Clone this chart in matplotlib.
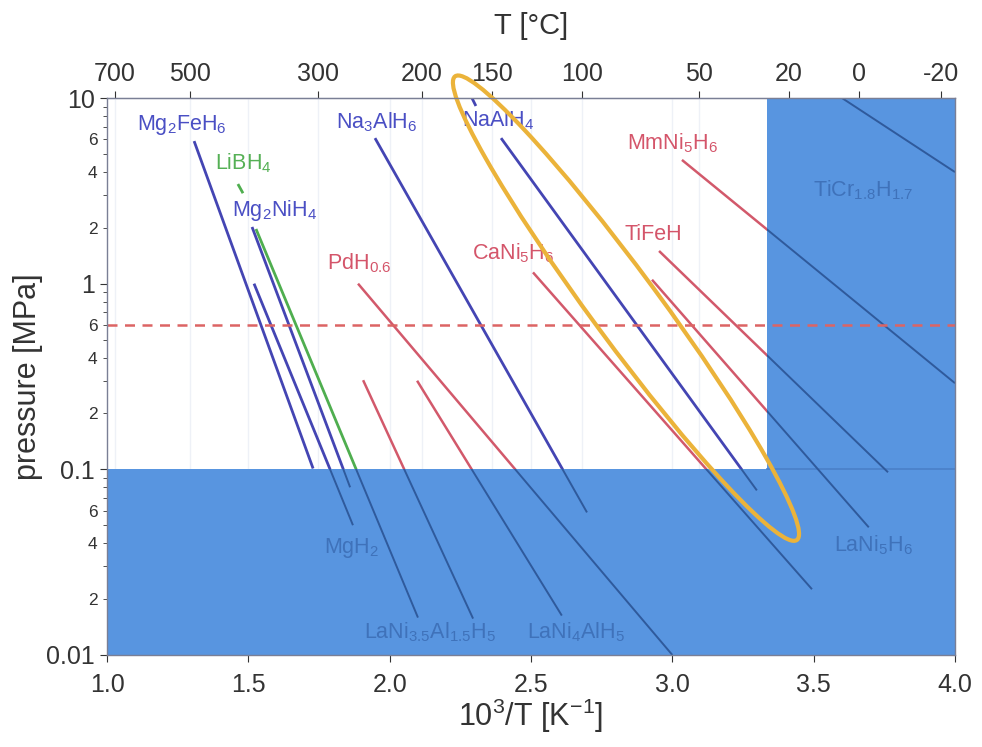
import numpy as np
import matplotlib
matplotlib.use("Agg")
import matplotlib.pyplot as plt
from matplotlib.patches import Polygon, Ellipse
from matplotlib.transforms import ScaledTranslation

plt.rcParams['font.family'] = ['Liberation Sans', 'DejaVu Sans']
plt.rcParams['mathtext.fontset'] = 'custom'
plt.rcParams['mathtext.rm'] = 'Liberation Sans'
plt.rcParams['mathtext.it'] = 'Liberation Sans'
plt.rcParams['mathtext.default'] = 'regular'

# ---------------------------------------------------------------------------
# Data: van't Hoff lines, (1000/T, p[MPa]) start and end points
# ---------------------------------------------------------------------------
names = ["Mg2FeH6", "MgH2", "Mg2NiH4", "LiBH4", "LiBH4_tick", "Na3AlH6", "NaAlH4",
         "NaAlH4_tick", "PdH0.6", "LaNiAl", "LaNi4AlH5", "CaNi5H6", "MmNi5H6",
         "TiFeH", "LaNi5H6", "TiCrH"]
x_start = [1.308, 1.520, 1.513, 1.527, 1.463, 1.948, 2.394, 2.291, 1.888, 1.906,
           2.097, 2.507, 3.034, 2.953, 2.928, 3.600]
x_end = [1.729, 1.870, 1.860, 2.100, 1.481, 2.698, 3.299, 2.305, 3.000, 2.295,
         2.609, 3.494, 4.000, 3.763, 3.695, 4.000]
p_start = [5.86, 1.00, 2.02, 1.97, 3.44, 6.08, 6.08, 10.0, 1.00, 0.302,
           0.300, 1.15, 4.64, 1.50, 1.05, 10.0]
p_end = [0.101, 0.050, 0.080, 0.0159, 3.07, 0.0586, 0.077, 9.06, 0.010, 0.0157,
         0.0163, 0.0226, 0.291, 0.0964, 0.0487, 3.99]
groups = ["blue", "blue", "blue", "green", "green", "blue", "blue", "blue", "red",
          "red", "red", "red", "red", "red", "red", "blue"]

# compound labels: text, 1000/T, p, colour group
label_text = ["Mg$_2$FeH$_6$", "LiBH$_4$", "Mg$_2$NiH$_4$", "Na$_3$AlH$_6$", "NaAlH$_4$",
              "MmNi$_5$H$_6$", "TiCr$_{1.8}$H$_{1.7}$", "PdH$_{0.6}$", "CaNi$_5$H$_6$",
              "TiFeH", "MgH$_2$", "LaNi$_{3.5}$Al$_{1.5}$H$_5$", "LaNi$_4$AlH$_5$",
              "LaNi$_5$H$_6$"]
label_x = [1.106, 1.382, 1.442, 1.810, 2.256, 2.839, 3.497, 1.778, 2.291, 2.829,
           1.768, 1.909, 2.486, 3.572]
label_p = [7.14, 4.47, 2.49, 7.43, 7.6, 5.71, 3.19, 1.29, 1.46, 1.85, 0.0375,
           0.0132, 0.0132, 0.0389]
label_group = ["blue", "green", "blue", "blue", "blue", "red", "shade", "red", "red",
               "red", "shade", "shade", "shade", "shade"]

temp_ticks_c = [700, 500, 300, 200, 150, 100, 50, 20, 0, -20]
p_limit = 0.6      # MPa, dashed line
p_shade = 0.1      # MPa, lower shaded band
x_shade = 1000 / 300.0  # room temperature

line_colors = {"blue": "#4445b3", "red": "#d2596b", "green": "#4fae4f"}
text_colors = {"blue": "#4a4fc4", "red": "#d4556a", "green": "#55b055", "shade": "#3f72ba"}
shade_color = "#5895e0"
shade_line = "#2f5a9c"

# ---------------------------------------------------------------------------
# Figure
# ---------------------------------------------------------------------------
fig = plt.figure(figsize=(9.82, 7.47), dpi=100)
ax = fig.add_axes([0.109, 0.1232, 0.8635, 0.7456])
ax.set_yscale("log")
ax.set_xlim(1.0, 4.0)
ax.set_ylim(0.01, 10)

# faint grid lines
temp_pos = [1000 / (t + 273.15) for t in temp_ticks_c]
for xv in temp_pos + [1.5, 2.0, 2.5, 3.0, 3.5]:
    ax.axvline(xv, color="#eef1f7", lw=1.0, zorder=0.5)

# shaded region (L-shape)
shade_pts = [(1.0, 0.01), (4.0, 0.01), (4.0, 10), (x_shade, 10),
             (x_shade, p_shade), (1.0, p_shade)]
ax.add_patch(Polygon(shade_pts, closed=True, facecolor=shade_color,
                     edgecolor="none", zorder=1))
ax.plot([x_shade, 4.0], [p_shade, p_shade], color="#4a80c8", lw=1.2, zorder=1.2)

white_clip = Polygon([(1.0, p_shade), (x_shade, p_shade), (x_shade, 10), (1.0, 10)],
                     closed=True, transform=ax.transData)
shade_clip = Polygon(shade_pts, closed=True, transform=ax.transData)

for i in range(len(names)):
    xs = [x_start[i], x_end[i]]
    ps = [p_start[i], p_end[i]]
    lw = 2.0 if groups[i] != "red" else 1.8
    l1, = ax.plot(xs, ps, color=line_colors[groups[i]], lw=lw, zorder=2,
                  solid_capstyle="butt")
    l1.set_clip_path(white_clip)
    l2, = ax.plot(xs, ps, color=shade_line, lw=1.4, zorder=2,
                  solid_capstyle="butt")
    l2.set_clip_path(shade_clip)

# dashed limit line
ax.axhline(p_limit, color="#dc6464", lw=1.8, ls=(0, (4, 3)), zorder=3)

# labels
for t, xv, pv, g in zip(label_text, label_x, label_p, label_group):
    ax.text(xv, pv, t, color=text_colors[g], fontsize=15.5, ha="left", va="center",
            zorder=3)

# orange ellipse (annotation)
ell = Ellipse((0, 0), width=5.76, height=0.68, angle=-53.6, fill=False,
              edgecolor="#ebb33a", lw=3.0, zorder=4, clip_on=False,
              transform=fig.dpi_scale_trans + ScaledTranslation(2.836, 0.738, ax.transData))
ax.add_patch(ell)

# axes styling
for s in ax.spines.values():
    s.set_color("#7a7f95")
    s.set_linewidth(1.0)
    s.set_zorder(5)

ax.set_xticks([1.0, 1.5, 2.0, 2.5, 3.0, 3.5, 4.0])
ax.set_xticklabels(["1.0", "1.5", "2.0", "2.5", "3.0", "3.5", "4.0"])
ax.tick_params(axis="x", labelsize=18, colors="#333333", length=5, direction="out",
               pad=8)

ax.set_yticks([0.01, 0.1, 1, 10])
ax.set_yticklabels(["0.01", "0.1", "1", "10"])
minor_vals = []
minor_labels = []
for dec in [0.01, 0.1, 1]:
    for m in range(2, 10):
        minor_vals.append(m * dec)
        minor_labels.append(str(m) if m in (2, 4, 6) else "")
ax.set_yticks(minor_vals, minor=True)
ax.set_yticklabels(minor_labels, minor=True)
ax.tick_params(axis="y", which="major", labelsize=18, colors="#333333", length=5, pad=4)
ax.tick_params(axis="y", which="minor", labelsize=12.5, colors="#333333", length=3, pad=4)

top = ax.secondary_xaxis("top")
top.set_xticks(temp_pos)
top.set_xticklabels([str(t) for t in temp_ticks_c])
top.tick_params(labelsize=18, colors="#333333", length=5, pad=4)
top.spines["top"].set_color("#7a7f95")

ax.set_ylabel("pressure [MPa]", fontsize=22, color="#333333", labelpad=2)
ax.set_xlabel("10$^3$/T [K$^{-1}$]", fontsize=22, color="#333333", labelpad=0)
top.set_xlabel("T [°C]", fontsize=21, color="#333333", labelpad=20)

fig.savefig("out.png", dpi=100)
